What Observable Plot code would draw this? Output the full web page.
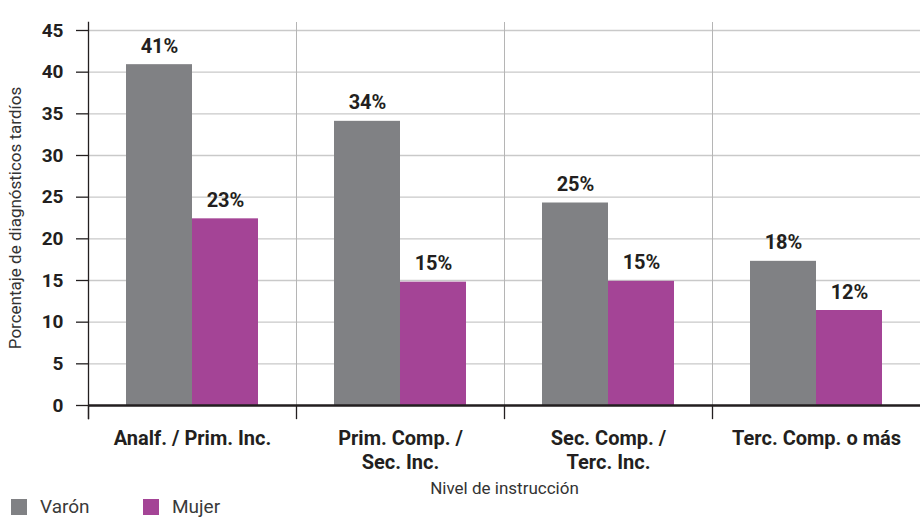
<!DOCTYPE html>
<html>
<head>
<meta charset="utf-8">
<script src="https://cdn.jsdelivr.net/npm/d3@7"></script>
<script src="https://cdn.jsdelivr.net/npm/@observablehq/plot@0.6"></script>
<style>
  body { margin: 0; background: #fff; font-family: Roboto, "DejaVu Sans", sans-serif; }
  #legend { display: flex; margin: -3px 0 0 11px; font-size: 19px; line-height: 20px; height: 20px; color: #3a3a3a; }
  .item { display: flex; align-items: center; width: 132px; }
  .sw { width: 16px; height: 16px; margin-right: 13px; }
</style>
</head>
<body>
<div id="chart"></div>
<div id="legend"></div>
<script>
const categories = ["Analf. / Prim. Inc.", "Prim. Comp. / Sec. Inc.", "Sec. Comp. / Terc. Inc.", "Terc. Comp. o más"];
const tickLabels = ["Analf. / Prim. Inc.", "Prim. Comp. /\nSec. Inc.", "Sec. Comp. /\nTerc. Inc.", "Terc. Comp. o más"];
const series = ["Varón", "Mujer"];
const varon = [40.9, 34.1, 24.3, 17.3];
const mujer = [22.4, 14.8, 14.9, 11.4];
const varonLabels = ["41%", "34%", "25%", "18%"];
const mujerLabels = ["23%", "15%", "15%", "12%"];
const colors = ["#808184", "#a44496"];
const yTicks = [0, 5, 10, 15, 20, 25, 30, 35, 40, 45];
const yTitle = "Porcentaje de diagnósticos tardíos";
const xTitle = "Nivel de instrucción";

const data = [];
categories.forEach((c, i) => {
  data.push({cat: c, serie: series[0], value: varon[i], label: varonLabels[i]});
  data.push({cat: c, serie: series[1], value: mujer[i], label: mujerLabels[i]});
});

const dark = "#231f20";
const chart = Plot.plot({
  width: 920,
  height: 500,
  marginLeft: 88,
  marginRight: 0,
  marginTop: 30,
  marginBottom: 95,
  style: {fontFamily: "Roboto, 'DejaVu Sans', sans-serif", color: dark, background: "#fff"},
  fx: {domain: categories, paddingInner: 0, paddingOuter: 0},
  x: {domain: series, paddingInner: 0, paddingOuter: 0.56, axis: null},
  y: {domain: [0, 45], ticks: yTicks},
  color: {domain: series, range: colors},
  marks: [
    Plot.gridY(yTicks, {stroke: "#c9c9c9", strokeOpacity: 1, strokeWidth: 1.3}),
    Plot.frame({anchor: "left", stroke: "#b5b5b5", insetTop: -8}),
    Plot.frame({anchor: "left", stroke: dark, insetTop: 375, insetBottom: -13, strokeWidth: 1.3}),
    Plot.frame({anchor: "left", stroke: dark, insetTop: -8, insetBottom: -13, strokeWidth: 1.3, facetAnchor: "left"}),
    Plot.barY(data, {fx: "cat", x: "serie", y: "value", fill: "serie"}),
    Plot.text(data, {fx: "cat", x: "serie", y: "value", text: "label", lineAnchor: "bottom", dy: -12, fontSize: 20, fontWeight: "bold", fill: dark}),
    Plot.ruleY([0], {stroke: dark, strokeWidth: 2.5}),
    Plot.axisY({
      ticks: yTicks, tickSize: 12, tickPadding: 13, fontSize: 19, fontWeight: "bold", stroke: dark, strokeWidth: 1.3,
      label: null
    }),
    Plot.axisY({
      ticks: yTicks, tickSize: 0, tickFormat: () => "", fontSize: 17, fill: "#333",
      label: yTitle, labelAnchor: "center", labelArrow: false, labelOffset: 80
    }),
    Plot.axisFx({
      anchor: "bottom", tickSize: 0, tickPadding: 22, fontSize: 20, fontWeight: "bold", lineHeight: 1.2,
      tickFormat: (d) => tickLabels[categories.indexOf(d)],
      label: null
    }),
    Plot.axisFx({
      anchor: "bottom", tickSize: 0, tickFormat: () => "", fontSize: 17, fill: "#333",
      label: xTitle, labelAnchor: "center", labelOffset: 88
    })
  ]
});
document.getElementById("chart").appendChild(chart);

const legend = document.getElementById("legend");
series.forEach((s, i) => {
  const item = document.createElement("div");
  item.className = "item";
  item.innerHTML = `<span class="sw" style="background:${colors[i]}"></span><span>${s}</span>`;
  legend.appendChild(item);
});
</script>
</body>
</html>
